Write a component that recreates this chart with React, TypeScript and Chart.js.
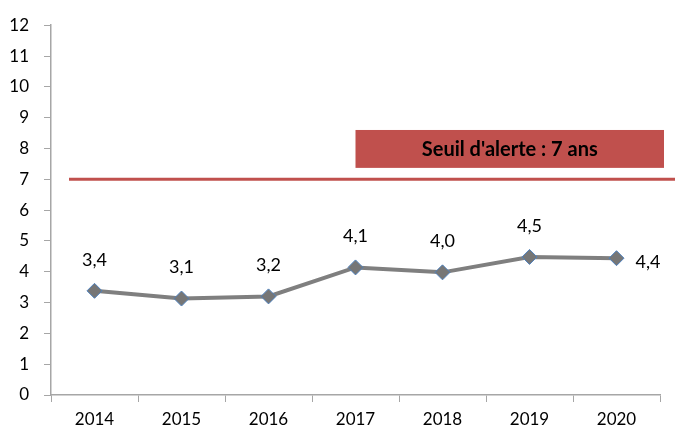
import React, { useEffect, useRef } from "react";
import { Chart, registerables } from "chart.js";

Chart.register(...registerables);

const years = ["2014", "2015", "2016", "2017", "2018", "2019", "2020"];
const ages = [3.38, 3.13, 3.2, 4.14, 3.98, 4.48, 4.44];
const yTicks = [0, 1, 2, 3, 4, 5, 6, 7, 8, 9, 10, 11, 12];
const threshold = 7;
const thresholdLabel = "Seuil d'alerte : 7 ans";
const boxTop = 8.6;
const boxBottom = 7.37;
const boxStartCategory = 3;

const FONT = "Lato, 'Noto Sans', sans-serif";

const overlayPlugin = {
  id: "overlay",
  afterDatasetsDraw(chart: any) {
    const { ctx, chartArea, scales } = chart;
    const y = scales.y;
    const x = scales.x;
    ctx.save();
    // threshold line
    const ty = y.getPixelForValue(threshold);
    ctx.strokeStyle = "#c0504d";
    ctx.lineWidth = 3;
    ctx.beginPath();
    ctx.moveTo(chartArea.left + 18, ty);
    ctx.lineTo(chart.width, ty);
    ctx.stroke();
    // box
    const bx0 = x.getPixelForValue(boxStartCategory);
    const bx1 = chartArea.right + 4;
    const by0 = y.getPixelForValue(boxTop);
    const by1 = y.getPixelForValue(boxBottom);
    ctx.fillStyle = "#c0504d";
    ctx.fillRect(bx0, by0, bx1 - bx0, by1 - by0);
    ctx.fillStyle = "#000";
    ctx.font = `bold 20px ${FONT}`;
    ctx.textAlign = "center";
    ctx.textBaseline = "middle";
    ctx.fillText(thresholdLabel, (bx0 + bx1) / 2, (by0 + by1) / 2 + 1);
    // data labels
    ctx.font = `18px ${FONT}`;
    const meta = chart.getDatasetMeta(0);
    meta.data.forEach((pt: any, i: number) => {
      const txt = ages[i].toFixed(1).replace(".", ",");
      if (i === ages.length - 1) {
        ctx.textAlign = "left";
        ctx.textBaseline = "middle";
        ctx.fillText(txt, pt.x + 19, pt.y + 4);
      } else {
        ctx.textAlign = "center";
        ctx.textBaseline = "bottom";
        ctx.fillText(txt, pt.x, pt.y - 22);
      }
    });
    ctx.restore();
  },
};

export default function App() {
  const ref = useRef<HTMLCanvasElement>(null);
  useEffect(() => {
    document.body.style.margin = "0";
    const chart = new Chart(ref.current!, {
      type: "line",
      data: {
        labels: years,
        datasets: [
          {
            data: ages,
            borderColor: "#7f7f7f",
            borderWidth: 4,
            pointStyle: "rectRot",
            pointRadius: 7.5,
            pointHoverRadius: 7.5,
            pointBackgroundColor: "#767676",
            pointBorderColor: "#4f81bd",
            pointBorderWidth: 1,
            tension: 0,
          },
        ],
      },
      options: {
        animation: false,
        responsive: false,
        maintainAspectRatio: false,
        layout: { padding: { left: 0, right: 15, top: 25, bottom: 0 } },
        plugins: { legend: { display: false }, tooltip: { enabled: false } },
        scales: {
          x: {
            offset: true,
            grid: {
              offset: true,
              drawOnChartArea: false,
              drawTicks: true,
              tickLength: 7,
              color: "#a6a6a6",
            },
            border: { color: "#a6a6a6", width: 1.5 },
            ticks: { color: "#000", font: { family: FONT, size: 17 }, padding: 7 },
            afterFit: (s: any) => {
              s.height = 35;
            },
          },
          y: {
            min: 0,
            max: 12,
            afterBuildTicks: (s: any) => {
              s.ticks = yTicks.map((v) => ({ value: v }));
            },
            grid: {
              drawOnChartArea: false,
              drawTicks: true,
              tickLength: 7,
              color: "#a6a6a6",
            },
            border: { color: "#a6a6a6", width: 1.5 },
            ticks: { color: "#000", font: { family: FONT, size: 17 }, padding: 15 },
            afterFit: (s: any) => {
              s.width = 51;
            },
          },
        },
      },
      plugins: [overlayPlugin],
    });
    return () => chart.destroy();
  }, []);
  return (
    <div style={{ position: "fixed", left: 0, top: 0, width: 675, height: 430 }}>
      <canvas ref={ref} width={675} height={430} />
    </div>
  );
}
